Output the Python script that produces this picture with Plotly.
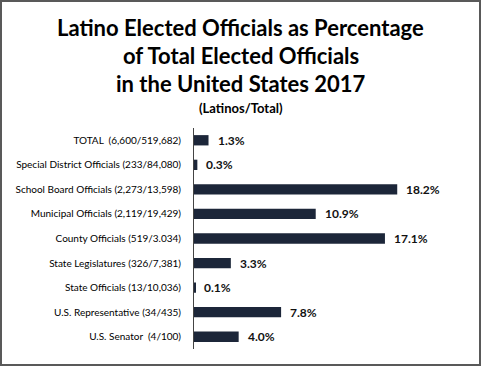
import plotly.graph_objects as go

categories = [
    "TOTAL  (6,600/519,682)",
    "Special District Officials (233/84,080)",
    "School Board Officials (2,273/13,598)",
    "Municipal Officials (2,119/19,429)",
    "County Officials (519/3.034)",
    "State Legislatures (326/7,381)",
    "State Officials (13/10,036)",
    "U.S. Representative (34/435)",
    "U.S. Senator  (4/100)",
]
values = [1.3, 0.3, 18.2, 10.9, 17.1, 3.3, 0.1, 7.8, 4.0]
value_labels = ["1.3%", "0.3%", "18.2%", "10.9%", "17.1%", "3.3%", "0.1%", "7.8%", "4.0%"]
title_lines = [
    "Latino Elected Officials as Percentage",
    "of Total Elected Officials",
    "in the United States 2017",
]
subtitle = "(Latinos/Total)"

W, H = 481, 366
L, R, T, B = 194, 19, 128, 17
pw, ph = W - L - R, H - T - B


def px_x(x):
    return (x - L) / pw


def px_y(y):
    return (H - B - y) / ph


fig = go.Figure(go.Bar(
    x=values, y=categories, orientation="h",
    marker=dict(color="#1c2639", line=dict(width=0)),
    width=0.42,
    hoverinfo="skip",
))

annotations = []
for i, line in enumerate(title_lines):
    annotations.append(dict(
        text="<b>%s</b>" % line, xref="paper", yref="paper",
        x=px_x(240.5), y=px_y(27 + 28 * i),
        xanchor="center", yanchor="middle", showarrow=False,
        font=dict(family="Lato", size=22, color="#000000"),
    ))
annotations.append(dict(
    text="<b>%s</b>" % subtitle, xref="paper", yref="paper",
    x=px_x(240.5), y=px_y(108),
    xanchor="center", yanchor="middle", showarrow=False,
    font=dict(family="Lato", size=13, color="#000000"),
))
for v, c, t in zip(values, categories, value_labels):
    annotations.append(dict(
        text="<b>%s</b>" % t, x=v, y=c, xref="x", yref="y",
        xanchor="left", yanchor="middle", xshift=7, showarrow=False,
        font=dict(family="Lato", size=12, color="#111111"),
    ))

fig.update_layout(
    width=W, height=H,
    margin=dict(l=L, r=R, t=T, b=B),
    paper_bgcolor="white", plot_bgcolor="white",
    showlegend=False,
    font=dict(family="Lato", color="#111111"),
    xaxis=dict(range=[0, 24], visible=False, fixedrange=True),
    yaxis=dict(
        autorange="reversed",
        showline=True, linecolor="#444444", linewidth=1,
        ticks="", ticklabelstandoff=10,
        tickfont=dict(family="Lato", size=10, color="#000000"),
        showgrid=False, fixedrange=True,
    ),
    annotations=annotations,
    shapes=[dict(
        type="rect", xref="paper", yref="paper",
        x0=px_x(1), x1=px_x(W - 1),
        y0=px_y(H - 1), y1=px_y(1),
        line=dict(color="#595959", width=2),
        fillcolor="rgba(0,0,0,0)",
        layer="below",
    )],
)

fig.write_html(
    "out.html",
    config={"displayModeBar": False},
    post_script="document.body.style.margin='0';document.body.style.overflow='hidden';",
)
